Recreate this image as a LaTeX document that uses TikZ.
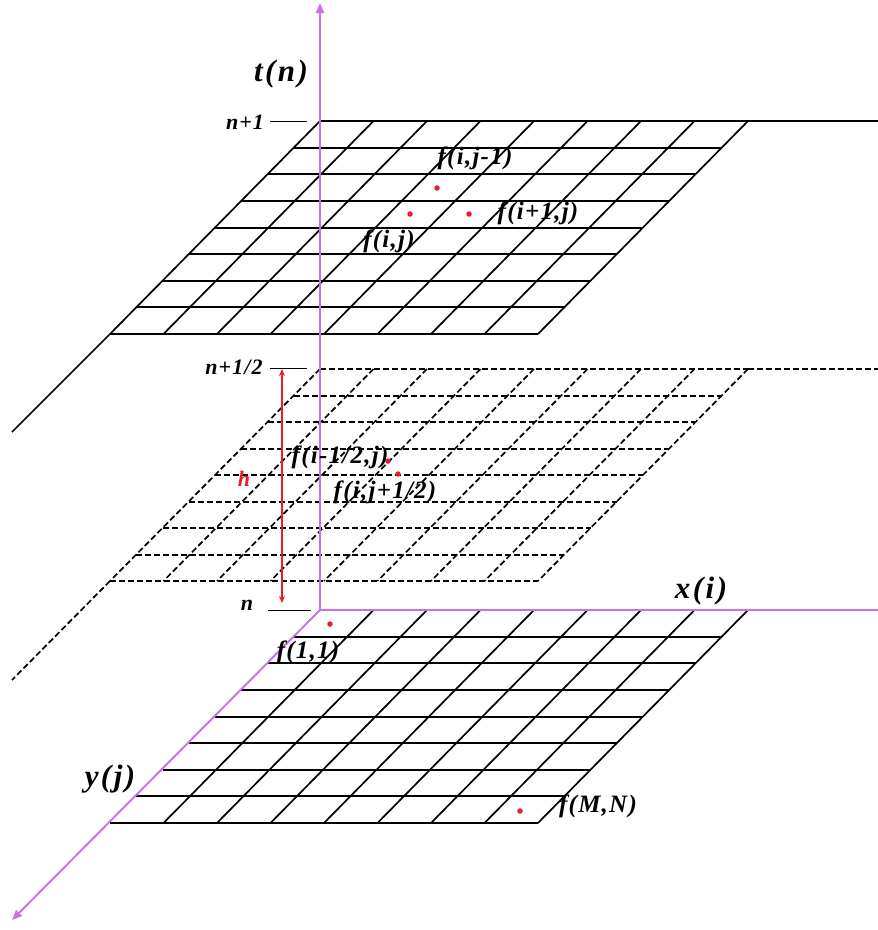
\documentclass[tikz,border=0pt]{standalone}
\usepackage{fontspec}
\setmainfont{Liberation Serif}
\newfontfamily\lblfont[LetterSpace=5]{Liberation Serif}
\newfontfamily\biglblfont[LetterSpace=8]{Liberation Serif}
\usetikzlibrary{arrows.meta}
\definecolor{axpurple}{RGB}{200,112,232}
\definecolor{dotred}{RGB}{230,30,40}
\tikzset{
  gridline/.style={black,line width=1.7pt},
  dashline/.style={black,line width=1.7pt,dash pattern=on 6pt off 3pt},
  axis/.style={axpurple,line width=1.9pt},
  lbl/.style={font=\lblfont\bfseries\itshape\fontsize{25}{25}\selectfont,inner sep=0pt},
  levlbl/.style={font=\lblfont\bfseries\itshape\fontsize{22}{22}\selectfont,inner sep=0pt},
  biglbl/.style={font=\biglblfont\bfseries\itshape\fontsize{31}{31}\selectfont,inner sep=0pt},
  dot/.style={circle,fill=dotred,inner sep=0pt,minimum size=5.5pt},
  tick/.style={black,line width=0.9pt},
}
\begin{document}
\begin{tikzpicture}[x=1pt,y=-1pt]
\useasboundingbox (0,0) rectangle (878,930);
% top grid (solid)
\foreach \k in {0,...,8}{
  \draw[gridline] ({320-26.25*\k},{round(121+26.625*\k)}) -- ({748-26.25*\k},{round(121+26.625*\k)});
  \draw[gridline] ({320+53.5*\k},121) -- ({110+53.5*\k},334);
}
\draw[gridline] (748,121) -- (878,121);
\draw[gridline] (110,334) -- (12,432);
% middle grid (dashed)
\begin{scope}[shift={(0,248)}]
\foreach \k in {0,...,8}{
  \draw[dashline] ({320-26.25*\k},{round(121+26.5*\k)}) -- ({748-26.25*\k},{round(121+26.5*\k)});
  \draw[dashline] ({320+53.5*\k},121) -- ({110+53.5*\k},333);
}
\draw[dashline] (748,121) -- (878,121);
\draw[dashline] (110,333) -- (12,432);
\end{scope}
% bottom grid (solid)
\begin{scope}[shift={(0,489)}]
\foreach \k in {1,...,8}{
  \draw[gridline] ({320-26.25*\k},{round(121+26.625*\k)}) -- ({748-26.25*\k},{round(121+26.625*\k)});
  \draw[gridline] ({320+53.5*\k},121) -- ({110+53.5*\k},334);
}
\end{scope}
% axes
\coordinate (O) at (320,610);
\coordinate (ttop) at (320,3);
\coordinate (xend) at (878,610);
\coordinate (yend) at (12,920);
\draw[axis,-{Triangle[length=10pt,width=8pt]}] (O) -- (ttop);
\draw[axis] (O) -- (xend);
\draw[axis,-{Triangle[length=10pt,width=8pt]}] (O) -- (yend);
% ticks and level labels
\node[biglbl] (tn) at (281,74) {t(n)};
\node[levlbl] (n1) at (245,122) {n+1};
\coordinate (t1a) at (270,121); \coordinate (t1b) at (307,121);
\draw[tick] (t1a) -- (t1b);
\node[levlbl] (nh) at (234,367) {n+1/2};
\coordinate (t2a) at (270,368); \coordinate (t2b) at (307,368);
\draw[tick] (t2a) -- (t2b);
\node[levlbl] (n0) at (247,605) {n};
\coordinate (t3a) at (268,610); \coordinate (t3b) at (311,610);
\draw[tick] (t3a) -- (t3b);
\node[biglbl] (xi) at (701,591) {x(i)};
\node[biglbl] (yj) at (110,779) {y(j)};
% h arrow
\coordinate (ha) at (282,603); \coordinate (hb) at (282,369);
\draw[dotred,line width=1.3pt,{Stealth[length=7pt,width=6pt]}-{Stealth[length=7pt,width=6pt]}] (ha) -- (hb);
\node[levlbl,text=dotred] (h) at (244,479) {h};
% dots
\node[dot] (d1) at (437,188) {};
\node[dot] (d2) at (410,214) {};
\node[dot] (d3) at (469,214) {};
\node[dot] (d4) at (388,461) {};
\node[dot] (d5) at (398,474) {};
\node[dot] (d6) at (330,624) {};
\node[dot] (d7) at (520,811) {};
% f labels
\node[lbl] (f1) at (475,158) {f(i,j-1)};
\node[lbl] (f2) at (538,213) {f(i+1,j)};
\node[lbl] (f3) at (389,241) {f(i,j)};
\node[lbl] (f4) at (340,457) {f(i-1/2,j)};
\node[lbl] (f5) at (385,492) {f(i,j+1/2)};
\node[lbl] (f6) at (308,652) {f(1,1)};
\node[lbl] (f7) at (598,806) {f(M,N)};
\end{tikzpicture}
\end{document}
